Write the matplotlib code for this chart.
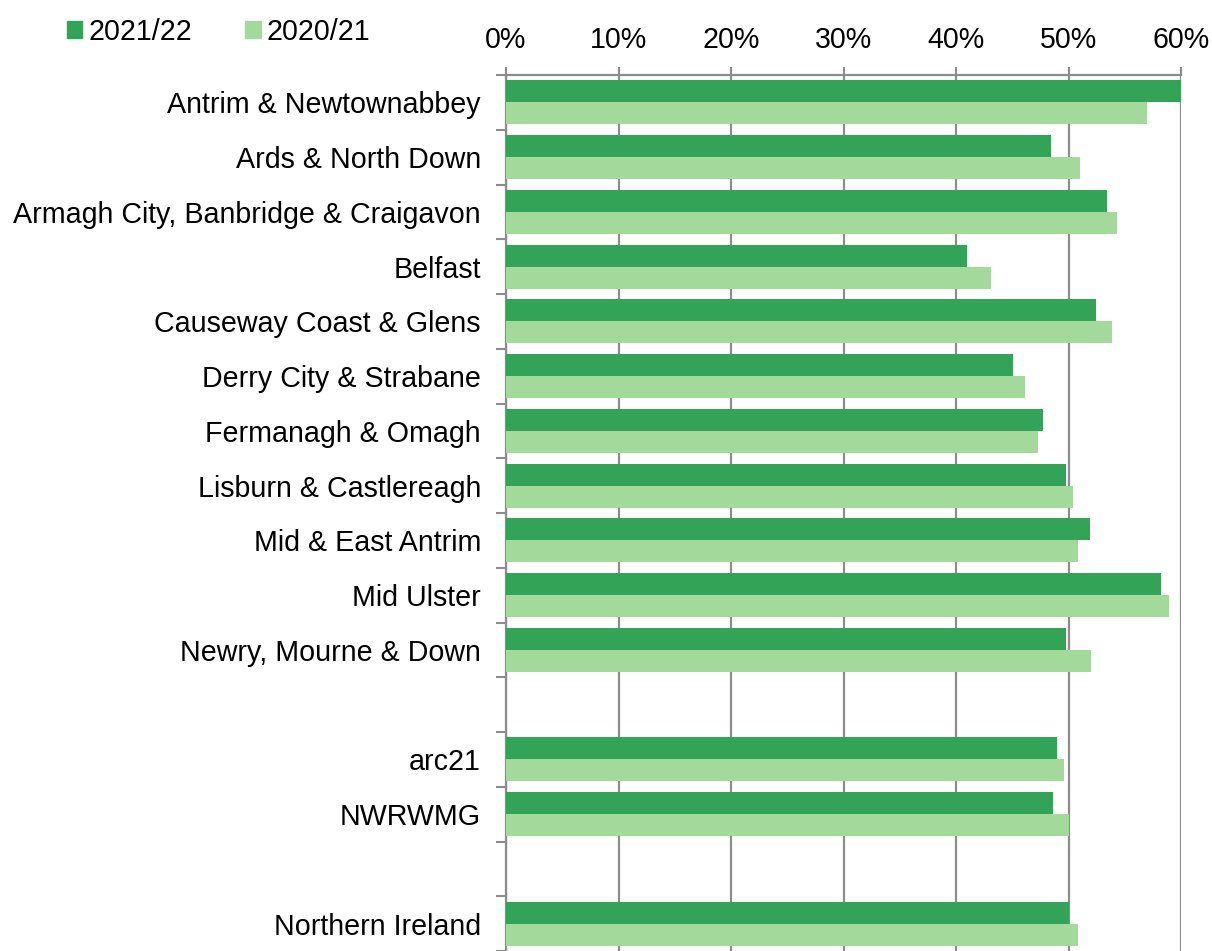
import matplotlib.pyplot as plt
from matplotlib.patches import Patch
import numpy as np

plt.rcParams['font.family'] = ['Liberation Sans', 'DejaVu Sans']

# categories ("" = blank spacer rows)
categories = ["Antrim & Newtownabbey", "Ards & North Down",
              "Armagh City, Banbridge & Craigavon", "Belfast",
              "Causeway Coast & Glens", "Derry City & Strabane",
              "Fermanagh & Omagh", "Lisburn & Castlereagh",
              "Mid & East Antrim", "Mid Ulster", "Newry, Mourne & Down",
              "", "arc21", "NWRWMG", "", "Northern Ireland"]
y2122 = [60.0, 48.4, 53.4, 41.0, 52.4, 45.1, 47.7, 49.8, 51.9, 58.2, 49.8,
         None, 49.0, 48.6, None, 50.0]
y2021 = [57.0, 51.0, 54.3, 43.1, 53.9, 46.1, 47.3, 50.4, 50.8, 58.9, 52.0,
         None, 49.6, 50.0, None, 50.8]

dark = "#33A457"
light = "#A3DA9B"
grey = "#8C8C8C"
fs = 20.6

W, H = 1212, 951
fig = plt.figure(figsize=(W / 100, H / 100), dpi=100)
ax = fig.add_axes([506 / W, 0, (1181 - 506) / W, (H - 75) / H])

pos = np.arange(len(categories))
v1 = np.array([np.nan if v is None else v for v in y2122])
v2 = np.array([np.nan if v is None else v for v in y2021])
bw = 0.4
ax.barh(pos - bw / 2, v1, height=bw, color=dark, zorder=3)
ax.barh(pos + bw / 2, v2, height=bw, color=light, zorder=3)

ax.set_xlim(0, 60)
ax.set_ylim((H - 102) / 55, -0.5)

ax.xaxis.tick_top()
ax.set_xticks(np.arange(0, 61, 10))
ax.set_xticklabels([f"{t}%" for t in range(0, 61, 10)], fontsize=fs)
ax.tick_params(axis='x', length=6, width=1.5, color=grey, pad=9)
ax.grid(axis='x', color=grey, linewidth=1.6, zorder=1)

ax.set_yticks(pos)
ax.set_yticklabels(categories, fontsize=fs)
ax.tick_params(axis='y', length=0, pad=18)
ax.set_yticks(np.arange(-0.5, len(categories), 1), minor=True)
ax.tick_params(axis='y', which='minor', length=7, width=1.5, color=grey)

for s in ['right', 'bottom']:
    ax.spines[s].set_visible(False)
for s in ['top', 'left']:
    ax.spines[s].set_color(grey)
    ax.spines[s].set_linewidth(1.6)

handles = [Patch(color=dark, label="2021/22"), Patch(color=light, label="2020/21")]
fig.legend(handles=handles, loc='upper left', bbox_to_anchor=(41 / W, 1.0 + 8 / H),
           ncol=2, frameon=False, fontsize=fs, handlelength=0.55,
           handleheight=0.55, handletextpad=0.2, columnspacing=1.85)

fig.savefig("out.png", dpi=100)
